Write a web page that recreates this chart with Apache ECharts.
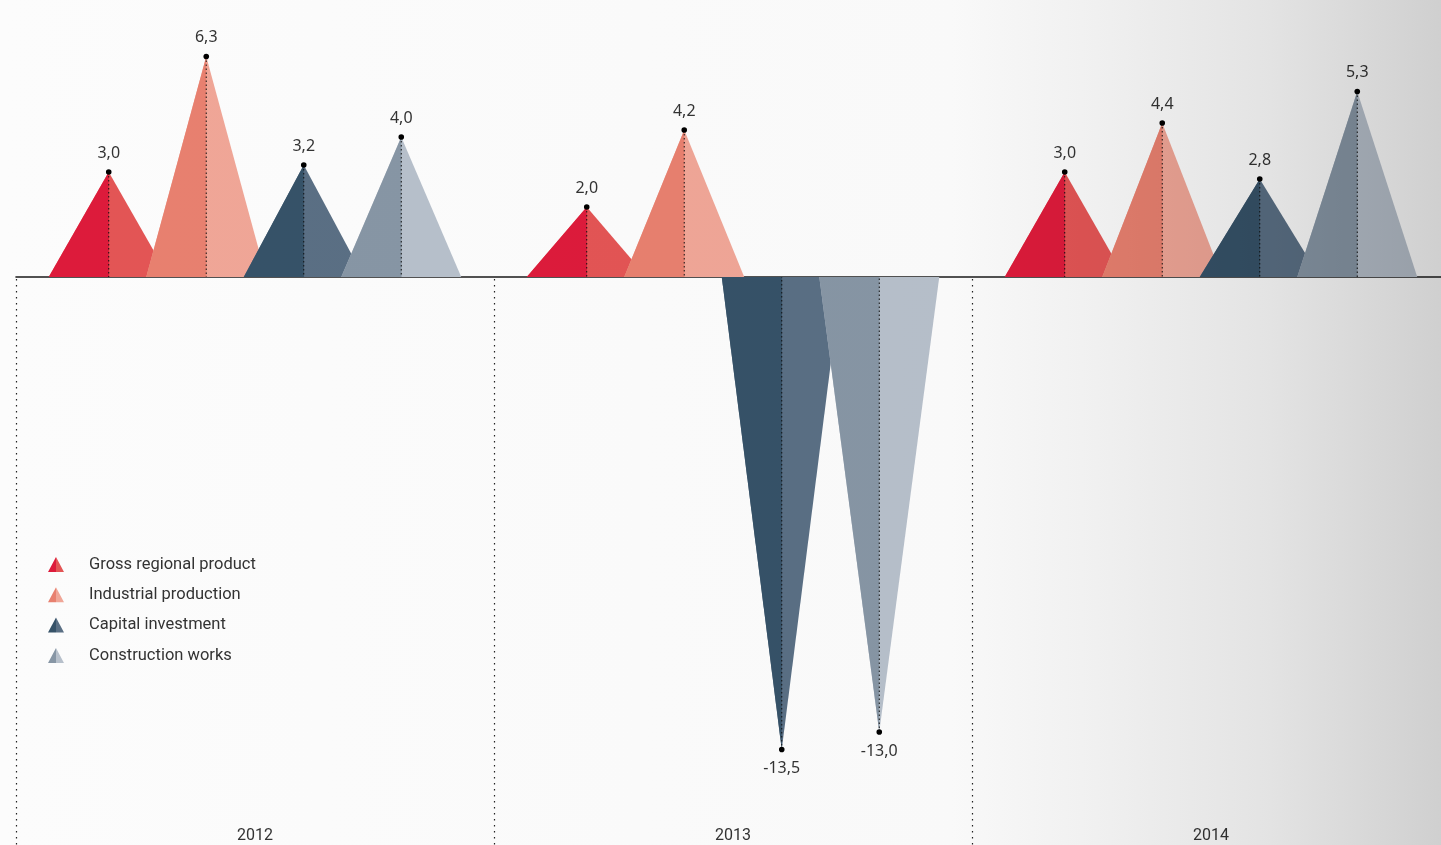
<!DOCTYPE html>
<html>
<head>
<meta charset="utf-8">
<script src="https://cdn.jsdelivr.net/npm/echarts@6/dist/echarts.min.js"></script>
<style>
  html, body { margin: 0; padding: 0; background: #fcfcfc; }
  #chart { width: 1441px; height: 845px; }
</style>
</head>
<body>
<div id="chart"></div>
<script>
// ---- data ----
const categories = ['2012', '2013', '2014'];
const seriesNames = ['Gross regional product', 'Industrial production', 'Capital investment', 'Construction works'];
const grossRegionalProduct = [3.0, 2.0, 3.0];
const industrialProduction = [6.3, 4.2, 4.4];
const capitalInvestment = [3.2, -13.5, 2.8];
const constructionWorks = [4.0, -13.0, 5.3];

// ---- styles ----
const darkColors = ['#dd1b3b', '#e8806f', '#365268', '#8796a5'];
const lightColors = ['#e35555', '#f0a697', '#5a6f84', '#b7c0cb'];
const values = [grossRegionalProduct, industrialProduction, capitalInvestment, constructionWorks];

const chart = echarts.init(document.getElementById('chart'), null, { renderer: 'canvas' });

function fmt(v) { return v.toFixed(1).replace('.', ','); }

function makeRender(sIdx) {
  return function (params, api) {
    const ci = api.value(0);
    const v = api.value(1);
    const base = api.coord([ci, 0]);
    const band = api.size([1, 0])[0];
    const cx = base[0] + (sIdx - 1.5) * band * 0.204;
    const top = api.coord([ci, v])[1];
    const hw = band * 0.1255;
    const by = base[1];
    return {
      type: 'group',
      children: [
        { type: 'polygon', shape: { points: [[cx - hw, by], [cx, top], [cx + hw, by]] }, style: { fill: lightColors[sIdx] } },
        { type: 'polygon', shape: { points: [[cx - hw, by], [cx, top], [cx + 0.3, by]] }, style: { fill: darkColors[sIdx] } },
        { type: 'line', shape: { x1: cx, y1: top, x2: cx, y2: by }, style: { stroke: '#111', lineWidth: 1, lineDash: [1.5, 2.5] }, z2: 5 },
        { type: 'circle', shape: { cx: cx, cy: top, r: 2.8 }, style: { fill: '#000' }, z2: 6 },
        {
          type: 'text', z2: 7,
          style: {
            text: fmt(v), x: cx, y: v >= 0 ? top - 11 : top + 11,
            align: 'center', verticalAlign: v >= 0 ? 'bottom' : 'top',
            fontFamily: 'Noto Sans', fontSize: 16, fill: '#333'
          }
        }
      ]
    };
  };
}

const series = values.map((arr, i) => ({
  name: seriesNames[i],
  type: 'custom',
  xAxisIndex: 0,
  yAxisIndex: 0,
  renderItem: makeRender(i),
  itemStyle: {
    color: new echarts.graphic.LinearGradient(0, 0, 1, 0, [
      { offset: 0, color: darkColors[i] }, { offset: 0.5, color: darkColors[i] },
      { offset: 0.5, color: lightColors[i] }, { offset: 1, color: lightColors[i] }
    ])
  },
  data: arr.map((v, ci) => [ci, v]),
  z: 2
}));

// separators between years
series.push({
  type: 'custom',
  name: 'sep',
  xAxisIndex: 0,
  yAxisIndex: 0,
  renderItem: function (params, api) {
    const ci = api.value(0);
    const base = api.coord([ci, 0]);
    const band = api.size([1, 0])[0];
    const x = Math.round(base[0] - band / 2) + 0.5;
    return {
      type: 'line',
      shape: { x1: x, y1: base[1] + 2, x2: x, y2: 845 },
      style: { stroke: '#222', lineWidth: 1.2, lineDash: [1.5, 4.5] }
    };
  },
  data: categories.map((c, i) => [i, 0]),
  z: 1
});

const option = {
  backgroundColor: '#fcfcfc',
  animation: false,
  grid: { left: 16, width: 1434, top: 0, bottom: 0, containLabel: false, outerBoundsMode: 'none' },
  legend: {
    data: seriesNames,
    orient: 'vertical',
    left: 48,
    top: 556,
    padding: 0,
    itemWidth: 16,
    itemHeight: 15,
    itemGap: 13.3,
    icon: 'triangle',
    textStyle: { fontFamily: 'Roboto', fontSize: 16.5, color: '#333', padding: [0, 0, 0, 20] },
    selectedMode: false
  },
  xAxis: [
    {
      type: 'category', data: categories,
      axisLine: { show: true, onZero: true, lineStyle: { color: '#1a1a1a', width: 1.6 } },
      axisTick: { show: false }, axisLabel: { show: false }, splitLine: { show: false }
    },
    {
      type: 'category', data: categories, position: 'bottom',
      axisLine: { show: false }, axisTick: { show: false }, splitLine: { show: false },
      axisLabel: { show: true, inside: true, margin: 1, fontFamily: 'Roboto', fontSize: 16, color: '#333', verticalAlign: 'bottom' }
    }
  ],
  yAxis: { type: 'value', min: -16.229, max: 7.914, show: false, splitLine: { show: false } },
  graphic: [
    {
      type: 'rect', left: 0, top: 0, z: 1000, silent: true,
      shape: { width: 1441, height: 845 },
      style: {
        fill: new echarts.graphic.LinearGradient(0, 0, 1, 0, [
          { offset: 0, color: '#ffffff' },
          { offset: 0.66, color: '#fcfcfc' },
          { offset: 0.76, color: '#f3f3f3' },
          { offset: 0.88, color: '#e6e6e6' },
          { offset: 1, color: '#d2d2d2' }
        ]),
        blend: 'multiply'
      }
    }
  ],
  series: series
};

chart.setOption(option);
</script>
</body>
</html>
